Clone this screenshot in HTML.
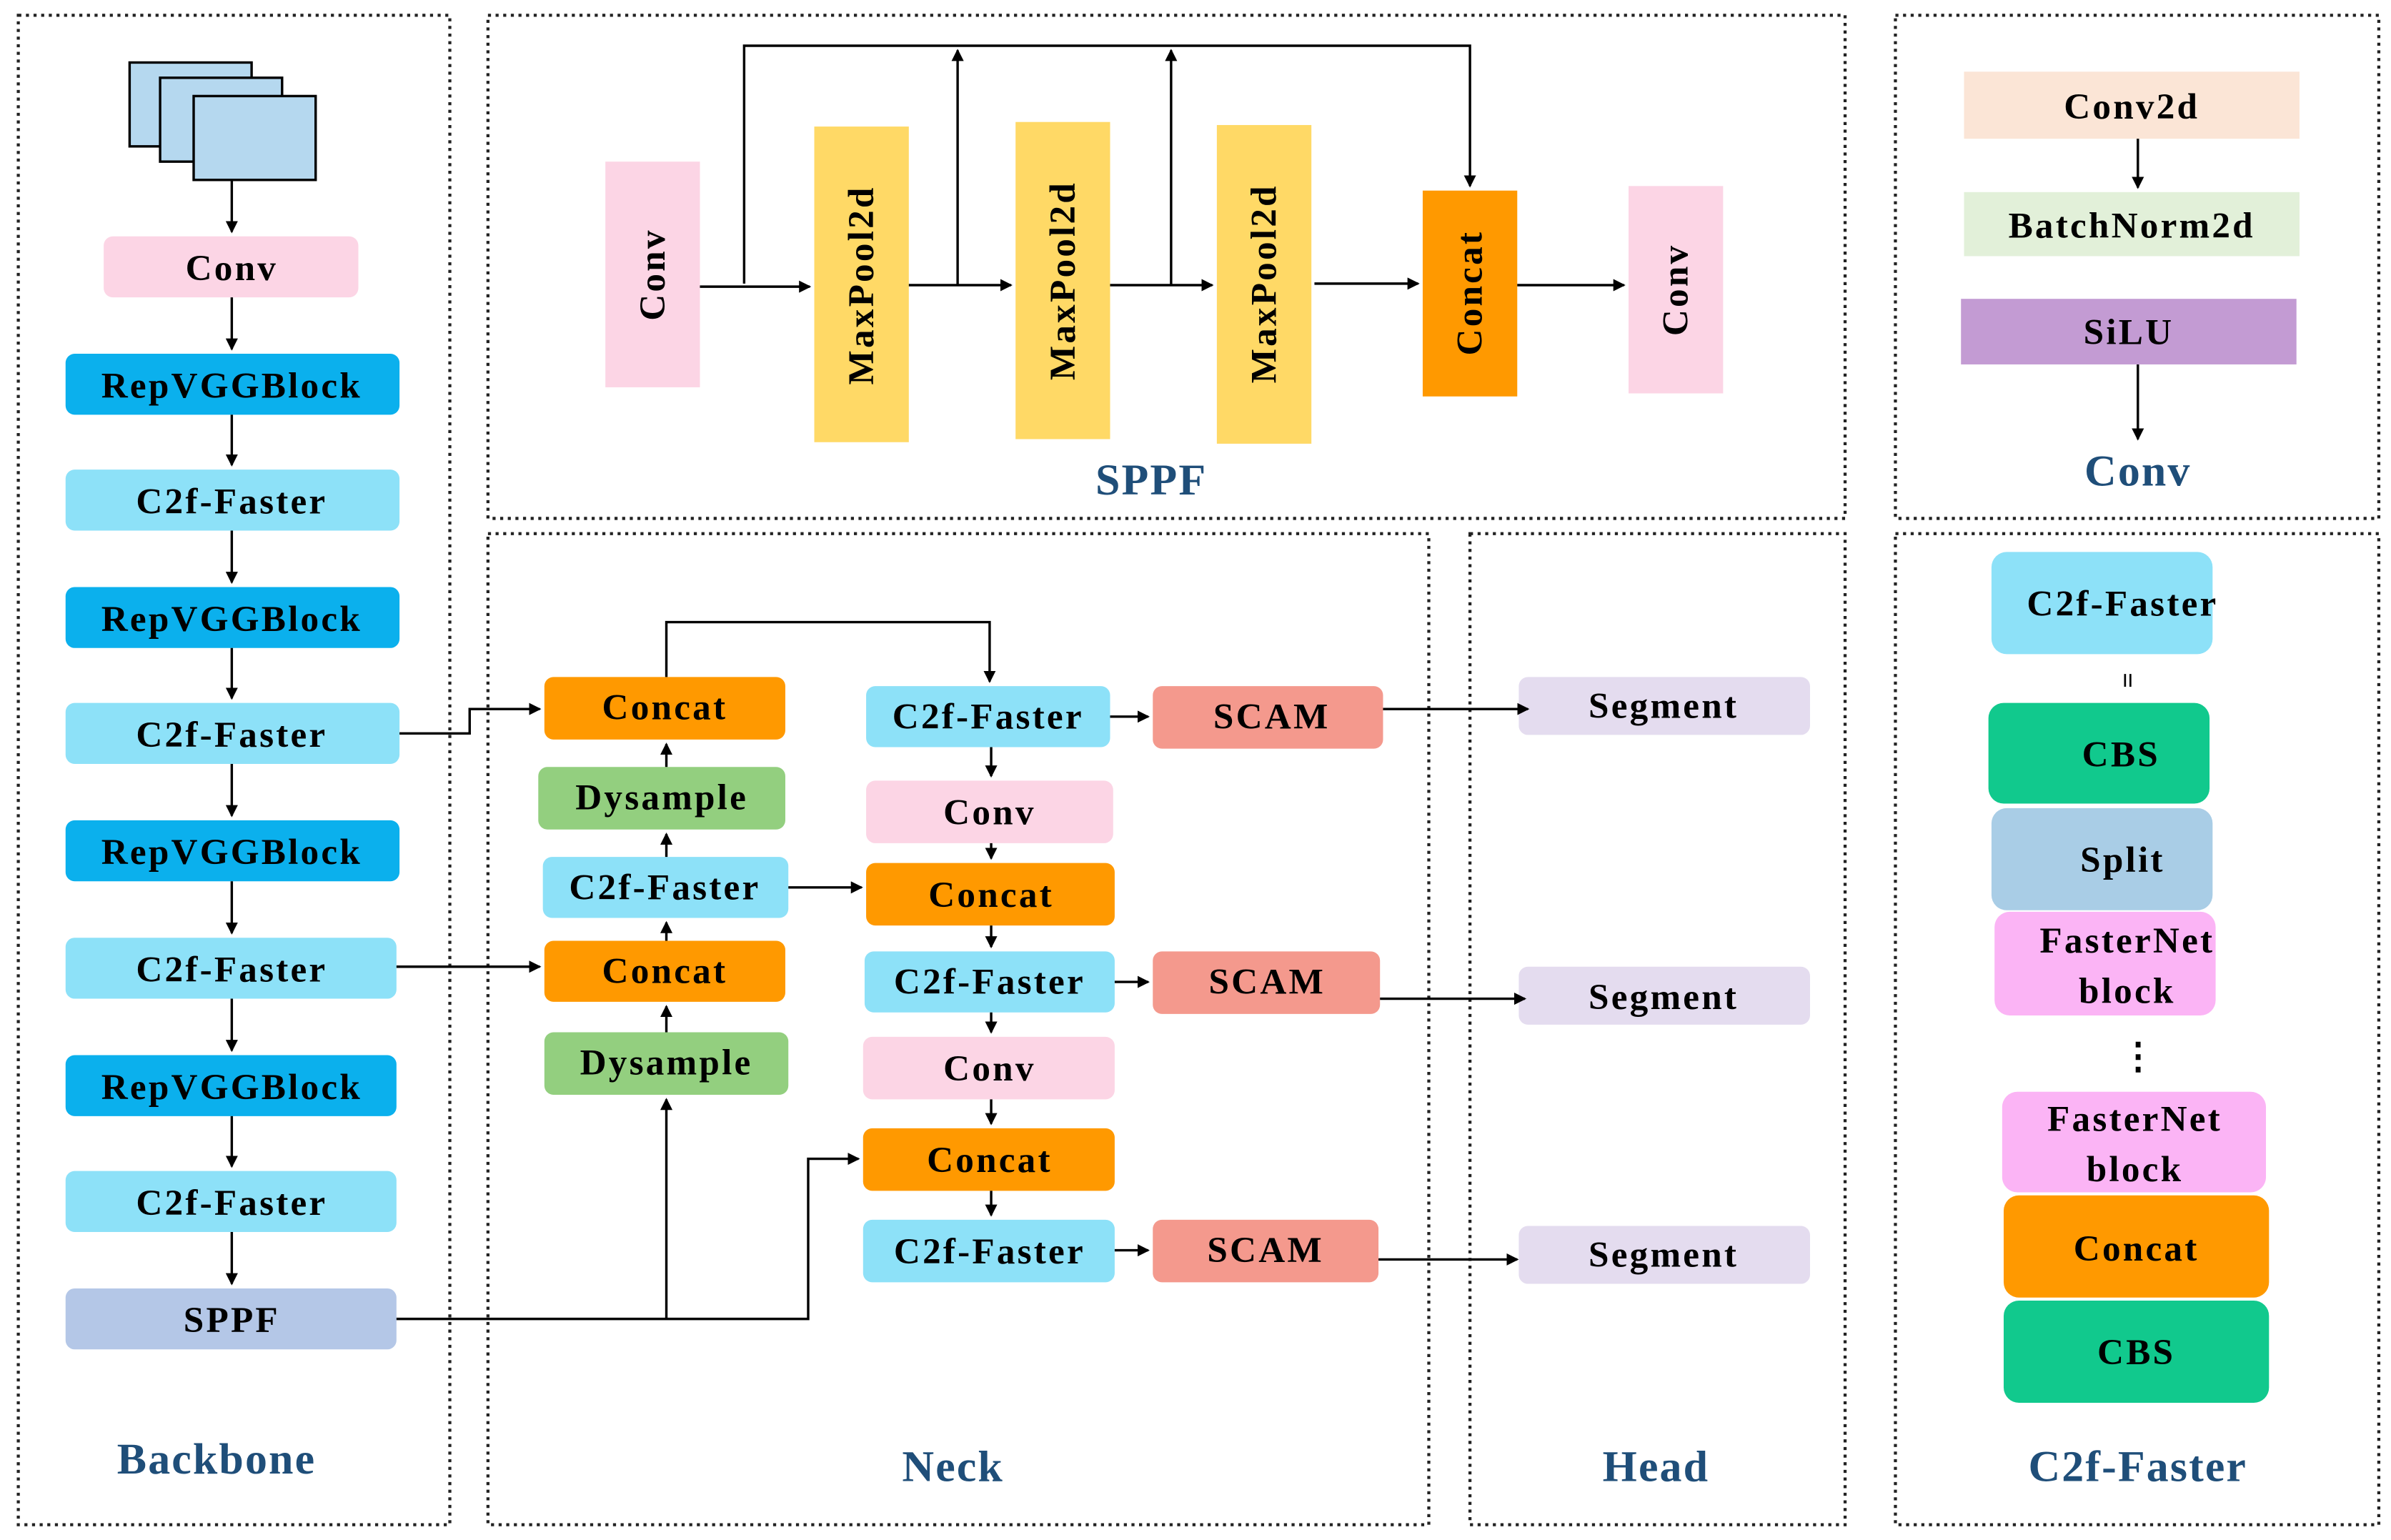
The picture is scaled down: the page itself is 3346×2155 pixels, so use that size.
<!DOCTYPE html>
<html><head><meta charset="utf-8"><style>
html,body{margin:0;padding:0;background:#fff;}
svg{display:block;}
text{font-family:"Liberation Serif",serif;font-weight:bold;fill:#000;}
.t{font-size:24px;letter-spacing:1.5px;text-anchor:middle;dominant-baseline:central;}
.lab{font-size:29px;letter-spacing:1px;fill:#1f4e79;text-anchor:middle;dominant-baseline:central;}
.pan{fill:none;stroke:#222;stroke-width:2;stroke-dasharray:2,3;}
.ln{fill:none;stroke:#000;stroke-width:1.6;}
</style></head><body>
<svg width="3346" height="2155" viewBox="0 0 1568 1010" preserveAspectRatio="none" xmlns="http://www.w3.org/2000/svg">
<defs><marker id="a" markerWidth="8" markerHeight="8" refX="7" refY="4" orient="auto" markerUnits="userSpaceOnUse"><path d="M0,0 L8,4 L0,8 z" fill="#000"/></marker></defs>
<rect width="1568" height="1010" fill="#fff"/>
<rect class="pan" x="12" y="10" width="283" height="990"/>
<rect class="pan" x="320" y="10" width="890" height="330"/>
<rect class="pan" x="1243" y="10" width="317" height="330"/>
<rect class="pan" x="320" y="350" width="617" height="650"/>
<rect class="pan" x="964" y="350" width="246" height="650"/>
<rect class="pan" x="1243" y="350" width="317" height="650"/>

<rect x="85" y="41" width="80" height="55" fill="#b5d8ef" stroke="#000" stroke-width="1.6"/>
<rect x="105" y="51" width="80" height="55" fill="#b5d8ef" stroke="#000" stroke-width="1.6"/>
<rect x="127" y="63" width="80" height="55" fill="#b5d8ef" stroke="#000" stroke-width="1.6"/>
<g>
<rect x="68" y="155" width="167" height="40" rx="6" fill="#fcd5e5"/><text class="t" x="152" y="176">Conv</text>
<rect x="43" y="232" width="219" height="40" rx="6" fill="#0bb0ed"/><text class="t" x="152" y="253">RepVGGBlock</text>
<rect x="43" y="308" width="219" height="40" rx="6" fill="#8de1f8"/><text class="t" x="152" y="329">C2f-Faster</text>
<rect x="43" y="385" width="219" height="40" rx="6" fill="#0bb0ed"/><text class="t" x="152" y="406">RepVGGBlock</text>
<rect x="43" y="461" width="219" height="40" rx="6" fill="#8de1f8"/><text class="t" x="152" y="482">C2f-Faster</text>
<rect x="43" y="538" width="219" height="40" rx="6" fill="#0bb0ed"/><text class="t" x="152" y="559">RepVGGBlock</text>
<rect x="43" y="615" width="217" height="40" rx="6" fill="#8de1f8"/><text class="t" x="152" y="636">C2f-Faster</text>
<rect x="43" y="692" width="217" height="40" rx="6" fill="#0bb0ed"/><text class="t" x="152" y="713">RepVGGBlock</text>
<rect x="43" y="768" width="217" height="40" rx="6" fill="#8de1f8"/><text class="t" x="152" y="789">C2f-Faster</text>
<rect x="43" y="845" width="217" height="40" rx="6" fill="#b4c7e7"/><text class="t" x="152" y="866">SPPF</text>
</g>
<g class="ln">
<line x1="152" y1="118" x2="152" y2="152" marker-end="url(#a)"/>
<line x1="152" y1="195" x2="152" y2="229" marker-end="url(#a)"/>
<line x1="152" y1="272" x2="152" y2="305" marker-end="url(#a)"/>
<line x1="152" y1="348" x2="152" y2="382" marker-end="url(#a)"/>
<line x1="152" y1="425" x2="152" y2="458" marker-end="url(#a)"/>
<line x1="152" y1="501" x2="152" y2="535" marker-end="url(#a)"/>
<line x1="152" y1="578" x2="152" y2="612" marker-end="url(#a)"/>
<line x1="152" y1="655" x2="152" y2="689" marker-end="url(#a)"/>
<line x1="152" y1="732" x2="152" y2="765" marker-end="url(#a)"/>
<line x1="152" y1="808" x2="152" y2="842" marker-end="url(#a)"/>
</g>
<text class="lab" x="142" y="957">Backbone</text>

<rect x="397" y="106" width="62" height="148" fill="#fcd5e5"/><text class="t" transform="translate(428,180) rotate(-90)">Conv</text>
<rect x="534" y="83" width="62" height="207" fill="#ffd966"/><text class="t" transform="translate(565,187) rotate(-90)">MaxPool2d</text>
<rect x="666" y="80" width="62" height="208" fill="#ffd966"/><text class="t" transform="translate(697,184) rotate(-90)">MaxPool2d</text>
<rect x="798" y="82" width="62" height="209" fill="#ffd966"/><text class="t" transform="translate(829,186) rotate(-90)">MaxPool2d</text>
<rect x="933" y="125" width="62" height="135" fill="#ff9900"/><text class="t" transform="translate(964,192) rotate(-90)">Concat</text>
<rect x="1068" y="122" width="62" height="136" fill="#fcd5e5"/><text class="t" transform="translate(1099,190) rotate(-90)">Conv</text>
<line class="ln" x1="459" y1="188" x2="531" y2="188" marker-end="url(#a)"/>
<polyline class="ln" points="488,186 488,30 964,30 964,122" marker-end="url(#a)"/>
<line class="ln" x1="596" y1="187" x2="663" y2="187" marker-end="url(#a)"/>
<line class="ln" x1="628" y1="187" x2="628" y2="33" marker-end="url(#a)"/>
<line class="ln" x1="728" y1="187" x2="795" y2="187" marker-end="url(#a)"/>
<line class="ln" x1="768" y1="187" x2="768" y2="33" marker-end="url(#a)"/>
<line class="ln" x1="862" y1="186" x2="930" y2="186" marker-end="url(#a)"/>
<line class="ln" x1="995" y1="187" x2="1065" y2="187" marker-end="url(#a)"/>
<text class="lab" x="755" y="315">SPPF</text>

<rect x="1288" y="47" width="220" height="44" fill="#fbe5d6"/><text class="t" x="1398" y="70">Conv2d</text>
<rect x="1288" y="126" width="220" height="42" fill="#e2f0d9"/><text class="t" x="1398" y="148">BatchNorm2d</text>
<rect x="1286" y="196" width="220" height="43" fill="#c39bd3"/><text class="t" x="1396" y="218">SiLU</text>
<line class="ln" x1="1402" y1="91" x2="1402" y2="123" marker-end="url(#a)"/>
<line class="ln" x1="1402" y1="239" x2="1402" y2="288" marker-end="url(#a)"/>
<text class="lab" x="1402" y="309">Conv</text>

<rect x="357" y="444" width="158" height="41" rx="6" fill="#ff9900"/><text class="t" x="436" y="464">Concat</text>
<rect x="353" y="503" width="162" height="41" rx="6" fill="#93cf7f"/><text class="t" x="434" y="523">Dysample</text>
<rect x="356" y="562" width="161" height="40" rx="6" fill="#8de1f8"/><text class="t" x="436" y="582">C2f-Faster</text>
<rect x="357" y="617" width="158" height="40" rx="6" fill="#ff9900"/><text class="t" x="436" y="637">Concat</text>
<rect x="357" y="677" width="160" height="41" rx="6" fill="#93cf7f"/><text class="t" x="437" y="697">Dysample</text>

<rect x="568" y="450" width="160" height="40" rx="6" fill="#8de1f8"/><text class="t" x="648" y="470">C2f-Faster</text>
<rect x="568" y="512" width="162" height="41" rx="6" fill="#fcd5e5"/><text class="t" x="649" y="533">Conv</text>
<rect x="568" y="566" width="163" height="41" rx="6" fill="#ff9900"/><text class="t" x="650" y="587">Concat</text>
<rect x="567" y="624" width="164" height="40" rx="6" fill="#8de1f8"/><text class="t" x="649" y="644">C2f-Faster</text>
<rect x="566" y="680" width="165" height="41" rx="6" fill="#fcd5e5"/><text class="t" x="649" y="701">Conv</text>
<rect x="566" y="740" width="165" height="41" rx="6" fill="#ff9900"/><text class="t" x="649" y="761">Concat</text>
<rect x="566" y="800" width="165" height="41" rx="6" fill="#8de1f8"/><text class="t" x="649" y="821">C2f-Faster</text>

<rect x="756" y="450" width="151" height="41" rx="6" fill="#f4998d"/><text class="t" x="834" y="470">SCAM</text>
<rect x="756" y="624" width="149" height="41" rx="6" fill="#f4998d"/><text class="t" x="831" y="644">SCAM</text>
<rect x="756" y="800" width="148" height="41" rx="6" fill="#f4998d"/><text class="t" x="830" y="820">SCAM</text>

<rect x="996" y="444" width="191" height="38" rx="6" fill="#e4dcef"/><text class="t" x="1091" y="463">Segment</text>
<rect x="996" y="634" width="191" height="38" rx="6" fill="#e4dcef"/><text class="t" x="1091" y="654">Segment</text>
<rect x="996" y="804" width="191" height="38" rx="6" fill="#e4dcef"/><text class="t" x="1091" y="823">Segment</text>

<polyline class="ln" points="262,481 308,481 308,465 354,465" marker-end="url(#a)"/>
<line class="ln" x1="260" y1="634" x2="354" y2="634" marker-end="url(#a)"/>
<polyline class="ln" points="260,865 530,865 530,760 563,760" marker-end="url(#a)"/>
<line class="ln" x1="437" y1="865" x2="437" y2="721" marker-end="url(#a)"/>
<line class="ln" x1="437" y1="677" x2="437" y2="660" marker-end="url(#a)"/>
<line class="ln" x1="437" y1="617" x2="437" y2="605" marker-end="url(#a)"/>
<line class="ln" x1="437" y1="562" x2="437" y2="547" marker-end="url(#a)"/>
<line class="ln" x1="437" y1="503" x2="437" y2="488" marker-end="url(#a)"/>
<polyline class="ln" points="437,444 437,408 649,408 649,447" marker-end="url(#a)"/>
<line class="ln" x1="517" y1="582" x2="565" y2="582" marker-end="url(#a)"/>
<line class="ln" x1="650" y1="490" x2="650" y2="509" marker-end="url(#a)"/>
<line class="ln" x1="650" y1="553" x2="650" y2="563" marker-end="url(#a)"/>
<line class="ln" x1="650" y1="607" x2="650" y2="621" marker-end="url(#a)"/>
<line class="ln" x1="650" y1="664" x2="650" y2="677" marker-end="url(#a)"/>
<line class="ln" x1="650" y1="721" x2="650" y2="737" marker-end="url(#a)"/>
<line class="ln" x1="650" y1="781" x2="650" y2="797" marker-end="url(#a)"/>
<line class="ln" x1="728" y1="470" x2="753" y2="470" marker-end="url(#a)"/>
<line class="ln" x1="731" y1="644" x2="753" y2="644" marker-end="url(#a)"/>
<line class="ln" x1="731" y1="820" x2="753" y2="820" marker-end="url(#a)"/>
<line class="ln" x1="907" y1="465" x2="1002" y2="465" marker-end="url(#a)"/>
<line class="ln" x1="905" y1="655" x2="1000" y2="655" marker-end="url(#a)"/>
<line class="ln" x1="904" y1="826" x2="995" y2="826" marker-end="url(#a)"/>
<text class="lab" x="625" y="962">Neck</text>
<text class="lab" x="1086" y="962">Head</text>

<rect x="1306" y="362" width="145" height="67" rx="10" fill="#8de1f8"/><text class="t" x="1392" y="396">C2f-Faster</text>
<text class="t" transform="translate(1395,447) rotate(90)" style="font-size:18px">=</text>
<rect x="1304" y="461" width="145" height="66" rx="10" fill="#11c98d"/><text class="t" x="1391" y="495">CBS</text>
<rect x="1306" y="530" width="145" height="67" rx="10" fill="#a9cde6"/><text class="t" x="1392" y="564">Split</text>
<rect x="1308" y="598" width="145" height="68" rx="10" fill="#fbb4f5"/><text class="t" x="1395" y="617">FasterNet</text><text class="t" x="1395" y="650">block</text>
<text class="t" x="1403" y="693">⋮</text>
<rect x="1313" y="716" width="173" height="66" rx="10" fill="#fbb4f5"/><text class="t" x="1400" y="734">FasterNet</text><text class="t" x="1400" y="767">block</text>
<rect x="1314" y="784" width="174" height="67" rx="10" fill="#ff9900"/><text class="t" x="1401" y="819">Concat</text>
<rect x="1314" y="853" width="174" height="67" rx="10" fill="#11c98d"/><text class="t" x="1401" y="887">CBS</text>
<text class="lab" x="1402" y="962">C2f-Faster</text>
</svg>
</body></html>
